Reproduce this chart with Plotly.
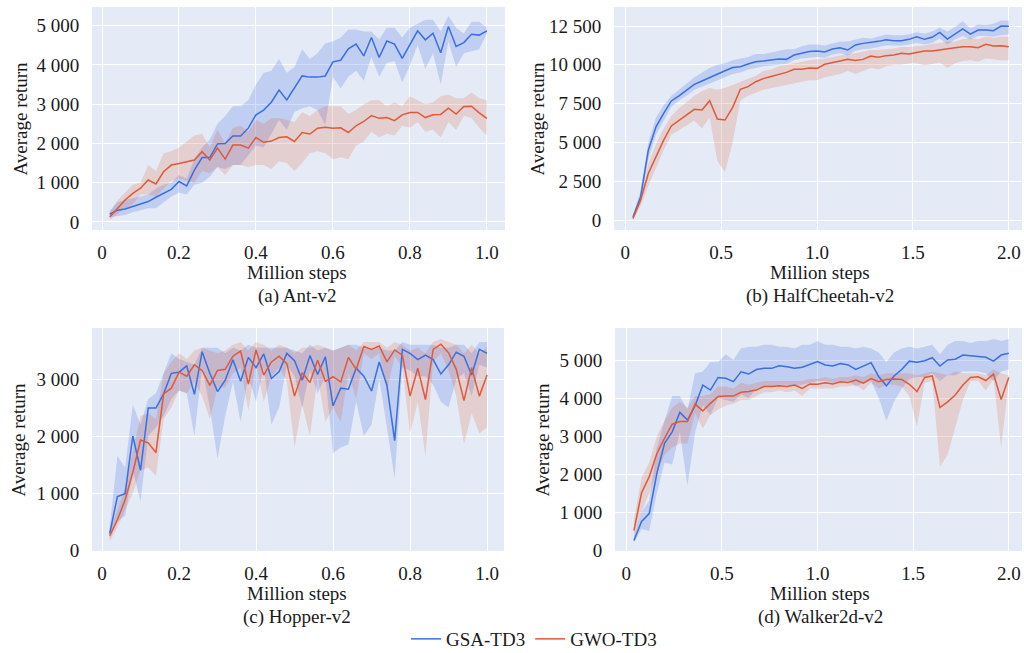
import plotly.graph_objects as go

W, H = 1024, 653
FONT = "Liberation Serif, Times New Roman, serif"
BLUE = "#3a6fe0"
RED = "#dd5a3a"
BLUE_FILL = "rgba(65,105,225,0.22)"
RED_FILL = "rgba(221,92,60,0.20)"
TXT = "#1a1a1a"

# ---------------- data ----------------
steps_1m = [round(0.02 * i, 2) for i in range(1, 51)]
steps_2m = [round(0.04 * i, 2) for i in range(1, 51)]

# (a) Ant-v2
ant_gsa = [200, 300, 330, 390, 450, 520, 630, 730, 830, 1030, 920, 1320, 1640, 1640, 1990, 2000, 2190, 2190, 2390, 2730,
           2850, 3050, 3360, 3110, 3400, 3720, 3690, 3690, 3720, 4080, 4120, 4410, 4530, 4230, 4700, 4190, 4610, 4530, 4170, 4510,
           4870, 4640, 4810, 4310, 4980, 4470, 4570, 4780, 4760, 4870]
ant_gsa_hi = [280, 500, 560, 600, 650, 700, 850, 950, 1000, 1200, 1100, 1600, 1900, 2100, 2500, 2700, 2950, 2950, 3100, 3500,
              3800, 3850, 4150, 3800, 3950, 4400, 4150, 4300, 4550, 4600, 4700, 4900, 4900, 4850, 4850, 4650, 4950, 4950, 4700, 4950,
              5050, 5150, 5150, 4850, 5250, 4950, 4800, 5100, 5100, 4950]
ant_gsa_lo = [120, 150, 180, 250, 300, 350, 350, 500, 650, 750, 700, 950, 1000, 1150, 1400, 1350, 1450, 1450, 1700, 1950,
              1900, 2250, 2600, 2350, 2800, 2900, 2950, 2850, 2470, 3700, 3400, 3700, 3850, 3600, 4200, 3700, 4050, 4100, 3550, 4000,
              4500, 3900, 4300, 3500, 4600, 3950, 4300, 4350, 4400, 4800]
ant_gwo = [130, 350, 560, 730, 860, 1070, 970, 1280, 1450, 1490, 1540, 1580, 1790, 1580, 1880, 1600, 1960, 1960, 1880, 2150,
           2030, 2060, 2150, 2170, 2050, 2280, 2240, 2390, 2410, 2390, 2400, 2280, 2450, 2560, 2710, 2640, 2660, 2580, 2730, 2790,
           2790, 2660, 2730, 2740, 2900, 2750, 2940, 2950, 2780, 2640]
ant_gwo_hi = [250, 550, 750, 950, 1000, 1450, 1300, 1750, 1800, 1900, 2050, 2200, 2250, 1900, 2350, 2000, 2400, 2450, 2300, 2600,
              2500, 2650, 2650, 2600, 2550, 2800, 2700, 2850, 2950, 2950, 2950, 2750, 2850, 3000, 3100, 3100, 2950, 3050, 2950, 3200,
              3100, 3000, 3050, 3200, 3250, 3150, 3150, 3300, 3150, 3100]
ant_gwo_lo = [50, 200, 350, 450, 700, 700, 650, 850, 1050, 1100, 1050, 1000, 1300, 1250, 1400, 1200, 1450, 1450, 1400, 1450,
              1450, 1350, 1550, 1500, 1300, 1500, 1750, 1800, 1750, 1600, 1650, 1600, 1950, 2050, 2300, 2150, 2250, 2200, 2450, 2400,
              2550, 2300, 2350, 2150, 2550, 2350, 2700, 2650, 2400, 2200]

# (b) HalfCheetah-v2
hc_gsa = [200, 1500, 4500, 6000, 6870, 7670, 8000, 8380, 8740, 8960, 9190, 9410, 9620, 9820, 9880, 10050, 10200, 10240, 10310, 10370,
          10350, 10630, 10740, 10850, 10890, 10820, 11020, 11100, 10950, 11280, 11380, 11430, 11510, 11620, 11550, 11550, 11640, 11810, 11640, 11770,
          12090, 11660, 12000, 12310, 11980, 12240, 12240, 12200, 12500, 12480]
hc_gsa_hi = [300, 1900, 5000, 6600, 7400, 8000, 8400, 8800, 9200, 9500, 9800, 10000, 10100, 10300, 10400, 10500, 10700, 10700, 10800, 10900,
             11000, 11000, 11200, 11300, 11300, 11250, 11400, 11500, 11500, 11650, 11750, 11700, 11850, 11950, 11900, 11900, 11950, 12100, 12000, 12150,
             12400, 12150, 12450, 12800, 12350, 12600, 12550, 12650, 12850, 12850]
hc_gsa_lo = [100, 1100, 3900, 5500, 6400, 7300, 7700, 8000, 8400, 8600, 8800, 9000, 9200, 9400, 9500, 9700, 9800, 9900, 9950, 10000,
             10050, 10300, 10400, 10450, 10500, 10450, 10650, 10750, 10600, 10900, 11000, 11050, 11150, 11250, 11250, 11250, 11300, 11400, 11300, 11400,
             11700, 11300, 11650, 11850, 11650, 11850, 11850, 11800, 11900, 11950]
hc_gwo = [100, 1290, 3000, 4080, 5150, 6060, 6440, 6770, 7130, 7090, 7690, 6510, 6440, 7260, 8420, 8590, 8910, 9110, 9240, 9360,
          9510, 9710, 9710, 9790, 9770, 10030, 10160, 10240, 10350, 10270, 10350, 10570, 10480, 10590, 10630, 10740, 10700, 10800, 10890, 10890,
          10950, 11000, 11100, 11170, 11170, 11100, 11320, 11210, 11230, 11170]
hc_gwo_hi = [200, 1500, 3600, 4900, 5900, 6700, 7200, 7600, 8000, 8300, 8500, 8400, 8500, 8700, 8900, 9100, 9300, 9600, 9700, 9900,
             10000, 10100, 10200, 10300, 10350, 10400, 10500, 10600, 10700, 10750, 10850, 10950, 10950, 11000, 11050, 11150, 11150, 11200, 11250, 11350,
             11400, 11500, 11500, 11650, 11750, 11650, 11800, 11750, 11800, 11800]
hc_gwo_lo = [0, 900, 2200, 3400, 4500, 5500, 5800, 6100, 6400, 5900, 6600, 3800, 3100, 5000, 7700, 8000, 8200, 8400, 8500, 8600,
             8700, 8800, 8900, 9000, 9000, 9200, 9300, 9400, 9600, 9400, 9600, 9800, 9700, 9900, 10000, 10000, 10100, 10100, 9950, 10050,
             10150, 9800, 10100, 10250, 10300, 10200, 10400, 10350, 10300, 10300]

# (c) Hopper-v2
hop_gsa = [290, 940, 990, 2000, 1400, 2490, 2490, 2740, 3100, 3120, 3230, 2730, 3480, 3100, 2780, 2980, 3340, 2960, 3380, 3200,
           3440, 3010, 3130, 3450, 3320, 2980, 3410, 3080, 3390, 2530, 2840, 2820, 3190, 3050, 2790, 3300, 2890, 1920, 3520, 3450,
           3340, 3420, 3340, 3090, 3250, 3470, 3400, 3070, 3520, 3450]
hop_gsa_hi = [400, 1650, 1450, 2550, 2200, 2650, 2750, 3100, 3450, 3350, 3300, 3250, 3550, 3550, 3550, 3450, 3550, 3500, 3600, 3550,
              3550, 3550, 3550, 3550, 3500, 3450, 3600, 3500, 3550, 3500, 3550, 3600, 3600, 3550, 3500, 3550, 3500, 3500, 3650, 3600,
              3600, 3600, 3600, 3550, 3550, 3600, 3600, 3450, 3650, 3650]
hop_gsa_lo = [200, 500, 600, 1400, 850, 2000, 2150, 2350, 2650, 2800, 2750, 2000, 3200, 2500, 1600, 2350, 2950, 2250, 3050, 2600,
              3200, 2200, 2500, 3250, 3050, 2500, 3150, 2750, 3050, 1700, 1800, 1850, 2600, 2000, 2200, 3000, 2150, 1250, 3200, 3150,
              3050, 3050, 2900, 2600, 2500, 3000, 3100, 2700, 3250, 3200]
hop_gwo = [250, 530, 880, 1360, 1930, 1880, 1710, 2740, 2840, 3120, 3050, 3250, 3150, 2890, 3150, 3170, 3400, 3490, 2910, 3510,
           3070, 3300, 3400, 3270, 2700, 3110, 2940, 3330, 2960, 3040, 2950, 3380, 3170, 3570, 3520, 3580, 3300, 3510, 3420, 2700,
           3190, 2640, 3520, 3610, 3460, 3170, 2620, 3200, 2700, 3070]
hop_gwo_hi = [350, 700, 1100, 1700, 2350, 2400, 2300, 3100, 3300, 3450, 3350, 3500, 3550, 3500, 3450, 3500, 3600, 3650, 3500, 3650,
              3600, 3500, 3600, 3550, 3450, 3550, 3550, 3600, 3550, 3500, 3550, 3600, 3500, 3650, 3650, 3650, 3550, 3650, 3600, 3500,
              3550, 3450, 3650, 3700, 3650, 3600, 3450, 3600, 3450, 3550]
hop_gwo_lo = [150, 400, 700, 1000, 1400, 1450, 1300, 2300, 2500, 2800, 2750, 2950, 2700, 2300, 2850, 2850, 3100, 3200, 2450, 3300,
              2600, 3050, 3200, 2950, 1800, 2550, 2000, 3050, 2250, 2500, 2250, 3100, 2650, 3450, 3350, 3450, 2800, 3400, 3200, 2050,
              2600, 1650, 3300, 3450, 3150, 2700, 1850, 2400, 2050, 2150]

# (d) Walker2d-v2
wk_gsa = [250, 750, 960, 2020, 2810, 3110, 3620, 3420, 3800, 4340, 4210, 4540, 4520, 4430, 4690, 4630, 4750, 4780, 4780, 4850,
          4820, 4780, 4810, 4890, 4960, 4870, 4840, 4910, 4870, 4750, 4850, 4930, 4560, 4320, 4580, 4750, 4970, 4940, 4980, 5060,
          4840, 5000, 5020, 5130, 5110, 5090, 5070, 4970, 5130, 5180]
wk_gsa_hi = [350, 1000, 1300, 2700, 3400, 4050, 4050, 3700, 4650, 4700, 4950, 4950, 5150, 5000, 5300, 5350, 5350, 5400, 5400, 5350,
             5350, 5300, 5400, 5400, 5500, 5400, 5400, 5350, 5350, 5300, 5350, 5300, 5200, 4950, 5200, 5300, 5350, 5300, 5350, 5400,
             5150, 5400, 5500, 5500, 5450, 5500, 5500, 5550, 5500, 5550]
wk_gsa_lo = [200, 550, 500, 1500, 2300, 2250, 3100, 1700, 3100, 3800, 3550, 4000, 3950, 3900, 4100, 4000, 4250, 4300, 4300, 4350,
             4350, 4300, 4350, 4400, 4450, 4450, 4400, 4450, 4450, 4300, 4400, 4450, 4000, 3400, 3900, 4250, 4500, 4550, 4550, 4650,
             4450, 4600, 4600, 4700, 4700, 4700, 4650, 4450, 4700, 4750]
wk_gwo = [510, 1510, 1930, 2540, 2940, 3310, 3380, 3380, 3840, 3660, 3860, 4040, 4050, 4050, 4150, 4170, 4210, 4300, 4300, 4320,
          4300, 4340, 4250, 4370, 4360, 4400, 4370, 4430, 4410, 4470, 4390, 4510, 4430, 4490, 4500, 4490, 4360, 4170, 4540, 4580,
          3750, 3900, 4080, 4340, 4540, 4560, 4460, 4630, 3960, 4540]
wk_gwo_hi = [800, 1900, 2300, 3000, 3400, 3750, 3900, 3750, 4050, 4050, 4100, 4300, 4300, 4250, 4400, 4350, 4400, 4450, 4450, 4450,
             4450, 4450, 4450, 4500, 4500, 4550, 4500, 4550, 4550, 4600, 4550, 4650, 4600, 4650, 4650, 4650, 4650, 4600, 4650, 4700,
             4650, 4600, 4700, 4650, 4650, 4650, 4600, 4750, 4650, 4600]
wk_gwo_lo = [300, 1000, 1500, 2050, 2500, 2700, 2800, 2800, 3600, 3200, 3550, 3700, 3800, 3850, 3950, 3950, 4050, 4150, 4150, 4200,
             4150, 4200, 4050, 4250, 4250, 4250, 4250, 4300, 4300, 4350, 4200, 4400, 4250, 4350, 4350, 4300, 4050, 3250, 4400, 4450,
             2200, 2500, 3200, 3950, 4450, 4450, 4200, 4500, 2700, 4450]

series_names = ["GSA-TD3", "GWO-TD3"]
panel_titles = ["(a) Ant-v2", "(b) HalfCheetah-v2", "(c) Hopper-v2", "(d) Walker2d-v2"]
x_title = "Million steps"
y_title = "Average return"
xticks_1m = [0, 0.2, 0.4, 0.6, 0.8, 1.0]
xticklabels_1m = ["0", "0.2", "0.4", "0.6", "0.8", "1.0"]
xticks_2m = [0, 0.5, 1.0, 1.5, 2.0]
xticklabels_2m = ["0", "0.5", "1.0", "1.5", "2.0"]

panels = [
    dict(x=steps_1m, gsa=(ant_gsa, ant_gsa_lo, ant_gsa_hi), gwo=(ant_gwo, ant_gwo_lo, ant_gwo_hi),
         px=(92, 505), py=(7, 230), xr=[-0.026, 1.047], yr=[-204, 5476], dy=1000,
         tv=xticks_1m, tt=xticklabels_1m, ytx=20, xtc=297),
    dict(x=steps_2m, gsa=(hc_gsa, hc_gsa_lo, hc_gsa_hi), gwo=(hc_gwo, hc_gwo_lo, hc_gwo_hi),
         px=(614, 1022), py=(7, 230), xr=[-0.059, 2.069], yr=[-644, 13724], dy=2500,
         tv=xticks_2m, tt=xticklabels_2m, ytx=537, xtc=820),
    dict(x=steps_1m, gsa=(hop_gsa, hop_gsa_lo, hop_gsa_hi), gwo=(hop_gwo, hop_gwo_lo, hop_gwo_hi),
         px=(92, 504), py=(328, 551), xr=[-0.026, 1.044], yr=[-17, 3895], dy=1000,
         tv=xticks_1m, tt=xticklabels_1m, ytx=18, xtc=297),
    dict(x=steps_2m, gsa=(wk_gsa, wk_gsa_lo, wk_gsa_hi), gwo=(wk_gwo, wk_gwo_lo, wk_gwo_hi),
         px=(615, 1022), py=(328, 551), xr=[-0.059, 2.069], yr=[-26, 5842], dy=1000,
         tv=xticks_2m, tt=xticklabels_2m, ytx=542, xtc=820),
]


def fx(px):
    return min(1.0, max(0.0, px / W))


def fy(py):
    return min(1.0, max(0.0, 1 - py / H))


fig = go.Figure()
annotations = []
layout_axes = {}

for i, p in enumerate(panels):
    n = "" if i == 0 else str(i + 1)
    xa, ya = "x" + n, "y" + n
    x = p["x"]
    for key, fillc in (("gsa", BLUE_FILL), ("gwo", RED_FILL)):
        mean, lo, hi = p[key]
        fig.add_trace(go.Scatter(x=x + x[::-1], y=hi + lo[::-1], fill="toself", fillcolor=fillc,
                                 line=dict(width=0), mode="lines", hoverinfo="skip",
                                 showlegend=False, xaxis=xa, yaxis=ya))
    for j, (key, col) in enumerate((("gsa", BLUE), ("gwo", RED))):
        mean = p[key][0]
        fig.add_trace(go.Scatter(x=x, y=mean, mode="lines", line=dict(color=col, width=1.5),
                                 name=series_names[j], showlegend=(i == 0), legendgroup=key,
                                 xaxis=xa, yaxis=ya))
    x0, x1 = p["px"]
    y0, y1 = p["py"]
    layout_axes["xaxis" + n] = dict(domain=[fx(x0), fx(x1)], range=p["xr"], anchor=ya,
                                    tickvals=p["tv"], ticktext=p["tt"], showgrid=True,
                                    gridcolor="white", gridwidth=1.3, zeroline=False,
                                    ticks="outside", ticklen=5, tickcolor="rgba(0,0,0,0)",
                                    ticklabeloverflow="allow", automargin=False,
                                    tickfont=dict(size=19, color=TXT), showline=False)
    layout_axes["yaxis" + n] = dict(domain=[fy(y1), fy(y0)], range=p["yr"], anchor=xa,
                                    dtick=p["dy"], tick0=0, tickformat=",d", showgrid=True,
                                    gridcolor="white", gridwidth=1.3, zeroline=False,
                                    ticks="outside", ticklen=8, tickcolor="rgba(0,0,0,0)",
                                    automargin=False,
                                    tickfont=dict(size=19, color=TXT), showline=False)
    ymid = (y0 + y1) / 2
    annotations.append(dict(text=y_title, x=fx(p["ytx"]), y=fy(ymid), xref="paper", yref="paper",
                            textangle=-90, showarrow=False, xanchor="center", yanchor="middle",
                            font=dict(size=19, color=TXT)))
    annotations.append(dict(text=x_title, x=fx(p["xtc"]), y=fy(y1 + 42), xref="paper", yref="paper",
                            showarrow=False, xanchor="center", yanchor="middle",
                            font=dict(size=19, color=TXT)))
    annotations.append(dict(text=panel_titles[i], x=fx(p["xtc"]), y=fy(y1 + 66), xref="paper", yref="paper",
                            showarrow=False, xanchor="center", yanchor="middle",
                            font=dict(size=19, color=TXT)))

fig.update_layout(
    width=W, height=H,
    margin=dict(l=0, r=0, t=0, b=0, autoexpand=False),
    paper_bgcolor="white",
    plot_bgcolor="#E5EBF6",
    font=dict(family=FONT, size=19, color=TXT),
    separators=". ",
    annotations=annotations,
    legend=dict(orientation="h", x=fx(534), xanchor="center", y=fy(620), yanchor="top",
                font=dict(size=19, color=TXT), bgcolor="rgba(0,0,0,0)", itemwidth=30,
                tracegroupgap=0),
    **layout_axes,
)

fig.write_html("out.html", config={"displayModeBar": False},
               post_script="document.body.style.margin='0';document.body.style.overflow='hidden';")
